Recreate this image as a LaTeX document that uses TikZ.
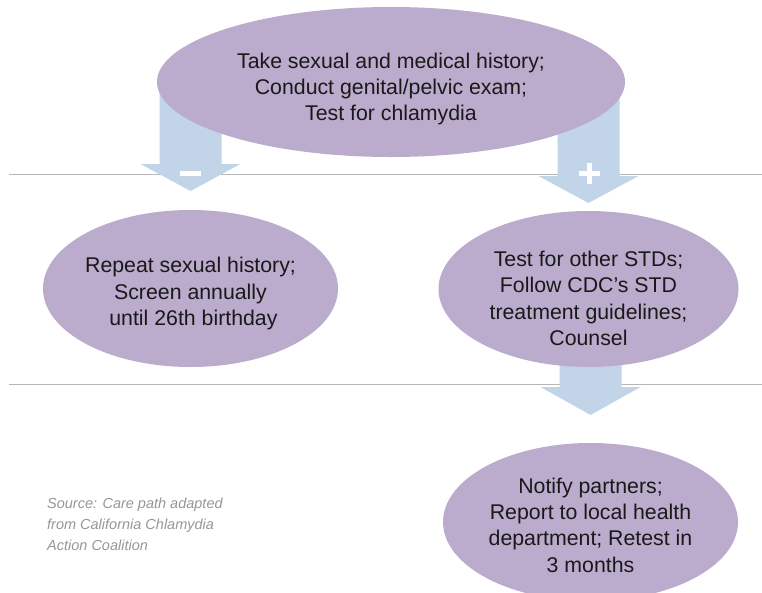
\documentclass[tikz,border=0pt]{standalone}
\usepackage{fontspec}
\setmainfont{Liberation Sans}
\usepackage{tikz}
\usetikzlibrary{shapes.geometric,backgrounds}

\definecolor{bubble}{RGB}{187,171,205}
\definecolor{flowblue}{RGB}{194,212,232}
\definecolor{rulegray}{RGB}{182,182,182}
\definecolor{notegray}{RGB}{150,150,150}

\tikzset{
    bubble/.style={ellipse, fill=bubble, inner sep=0pt},
    says/.style={align=center, inner sep=0pt, text=black!90,
        font=\fontsize{21.3}{26.3}\selectfont},
    flow/.style={fill=flowblue},
    sign/.style={draw=white, line width=5pt},
}

\begin{document}
\begin{tikzpicture}[x=1pt, y=-1pt]
    \useasboundingbox (0,0) rectangle (762,592);

    % the four bubbles
    \node[bubble, minimum width=468pt, minimum height=150pt] (exam) at (391,82) {};
    \node[bubble, minimum width=295pt, minimum height=157pt] (repeat) at (190.5,288.5) {};
    \node[bubble, minimum width=300pt, minimum height=156pt] (other) at (588.5,289) {};
    \node[bubble, minimum width=295pt, minimum height=158pt] (notify) at (590.5,522) {};

    \node[says] (exam-txt) at ([yshift=-7pt]exam.center)
        {Take sexual and medical history;\\ Conduct genital/pelvic exam;\\ Test for chlamydia};
    \node[says] (repeat-txt) at ([yshift=-5pt]repeat.center)
        {Repeat sexual history;\\ Screen annually\\ \ until 26th birthday};
    \node[says] (other-txt) at ([yshift=-9.5pt]other.center)
        {Test for other STDs;\\ Follow CDC’s STD\\ treatment guidelines;\\ Counsel};
    \node[says] (notify-txt) at ([yshift=-3pt]notify.center)
        {Notify partners;\\ Report to local health\\ department; Retest in\\ 3 months};

    \begin{pgfonlayer}{background}
        \draw[rulegray] (9,174.5) -- (762,174.5);
        \draw[rulegray] (9,384.5) -- (762,384.5);

        % block arrows, drawn from the tip up
        \foreach \dst/\ya/\yb/\yc in {repeat/85/164/191, other/85/176/203, notify/350/387/415} {
            \fill[flow] (\dst |- 0,\yc) -- ++(-50,\yb-\yc) -- ++(19,0) -- ++(0,\ya-\yb)
                -- ++(62,0) -- ++(0,\yb-\ya) -- ++(19,0) -- cycle;
        }
    \end{pgfonlayer}

    % minus and plus
    \draw[sign] (179.5,173.5) -- (200.5,173.5);
    \draw[sign] (579,173) -- (600,173);
    \draw[sign] (589.5,162.5) -- (589.5,183.5);

    \node[anchor=north west, align=left, inner sep=0pt, text=notegray,
        font=\fontsize{14.5}{21}\selectfont\itshape] (source) at (47,497.5)
        {Source: Care path adapted\\ from California Chlamydia\\ Action Coalition};
\end{tikzpicture}
\end{document}
